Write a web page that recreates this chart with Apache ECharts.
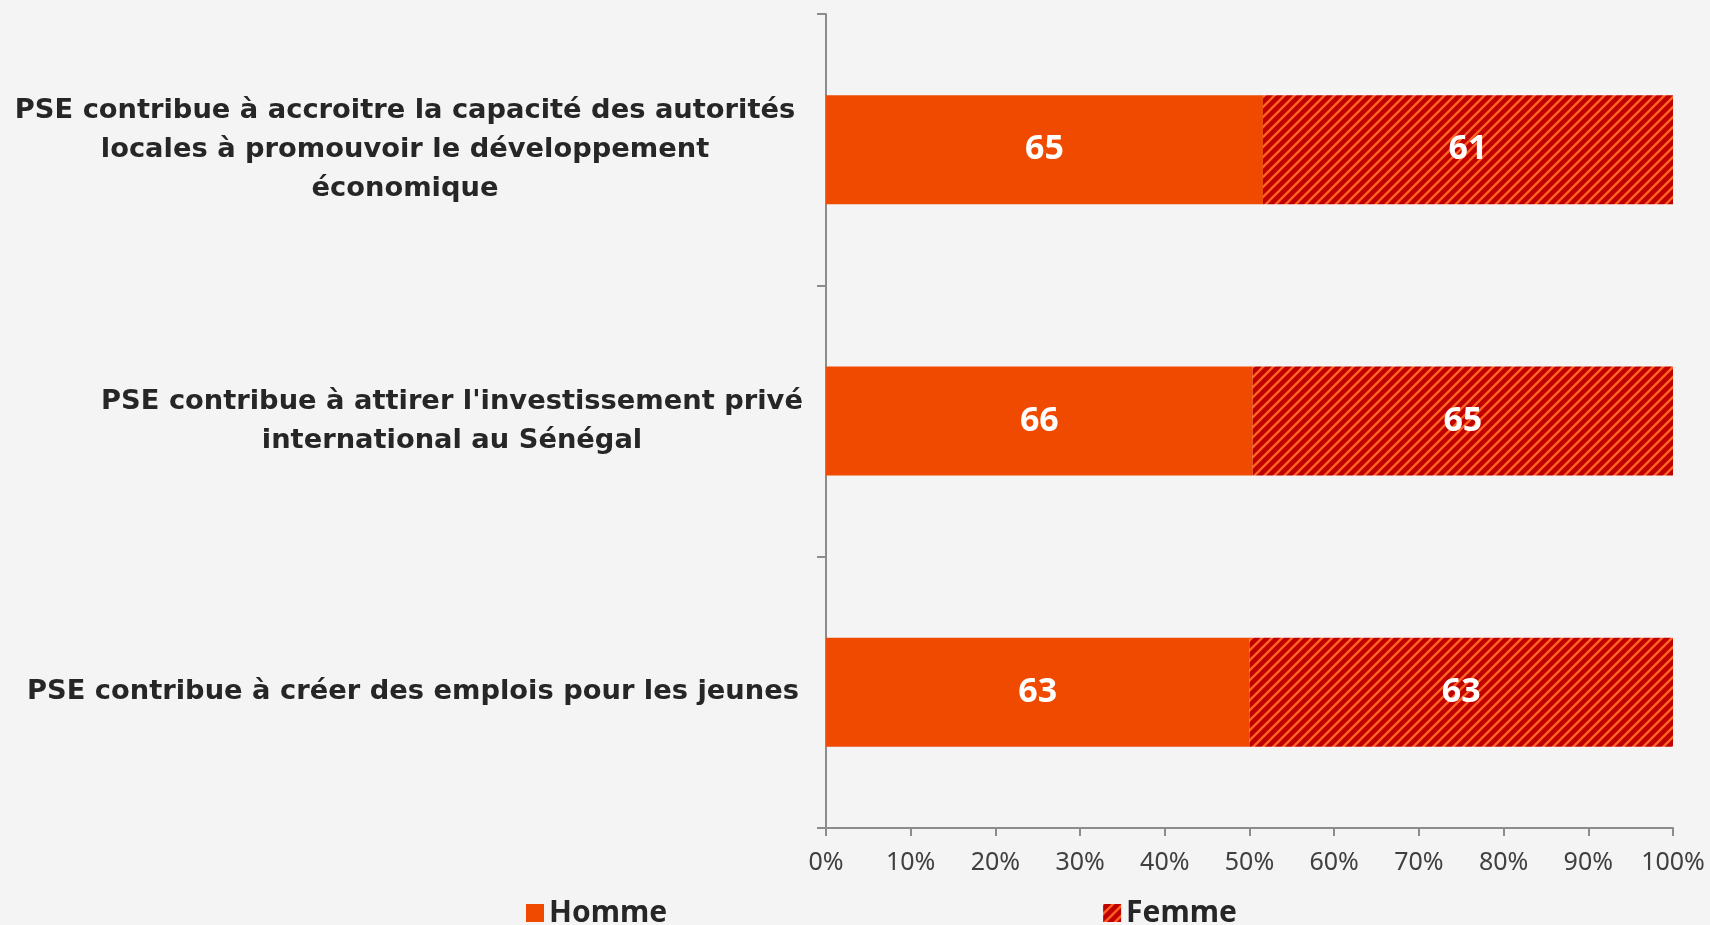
<!DOCTYPE html>
<html lang="fr">

<head>
  <meta charset="UTF-8" />
  <title>PSE - Homme / Femme</title>
  <script src="https://cdn.jsdelivr.net/npm/echarts@6/dist/echarts.min.js"></script>
  <style>
    body {
      margin: 0;
      background-color: #f4f4f4;
    }

    #chart {
      width: 1710px;
      height: 925px;
    }
  </style>
</head>

<body>
  <div id="chart"></div>

  <script>
    const categories = [
      "PSE contribue à accroitre la capacité des autorités\nlocales à promouvoir le développement\néconomique",
      "PSE contribue à attirer l'investissement privé\ninternational au Sénégal",
      "PSE contribue à créer des emplois pour les jeunes"
    ];
    const homme = [65, 66, 63];
    const femme = [61, 65, 63];
    const xTicks = [0, 10, 20, 30, 40, 50, 60, 70, 80, 90, 100];

    // hatched fill for "Femme": lines x + y = 0, 10, 20 on a 10px tile
    function hatch() {
      const c = document.createElement('canvas');
      c.width = 10;
      c.height = 10;
      const ctx = c.getContext('2d');
      ctx.fillStyle = '#c00000';
      ctx.fillRect(0, 0, 10, 10);
      ctx.strokeStyle = '#ff6424';
      ctx.lineWidth = 2.3;
      ctx.beginPath(); ctx.moveTo(-1, 1); ctx.lineTo(1, -1); ctx.stroke();
      ctx.beginPath(); ctx.moveTo(0, 10); ctx.lineTo(10, 0); ctx.stroke();
      ctx.beginPath(); ctx.moveTo(9, 11); ctx.lineTo(11, 9); ctx.stroke();
      return c;
    }

    const total = homme.map((h, i) => h + femme[i]);
    const pct = arr => arr.map((v, i) => v / total[i] * 100);

    const font = "'Noto Sans', sans-serif";
    const catFont = "'DejaVu Sans', sans-serif";
    const catStyle = w => ({
      width: w, align: 'center', fontFamily: catFont, fontSize: 27.3,
      fontWeight: 'bold', lineHeight: 39, color: '#262626'
    });

    const chart = echarts.init(document.getElementById('chart'));

    const option = {
      backgroundColor: '#f4f4f4',
      animation: false,
      grid: { left: 826, right: 37, top: 14, bottom: 97, containLabel: false, outerBoundsMode: 'none' },
      legend: {
        left: 521,
        top: 893,
        itemGap: 436,
        itemWidth: 18,
        itemHeight: 18,
        icon: 'rect',
        textStyle: { fontFamily: font, fontSize: 30, fontWeight: 'bold', color: '#262626' },
        data: ['Homme', 'Femme']
      },
      xAxis: {
        type: 'value',
        min: 0,
        max: 100,
        interval: 10,
        axisLine: { show: true, lineStyle: { color: '#8c8c8c', width: 2 } },
        axisTick: { show: true, length: 8, lineStyle: { color: '#8c8c8c', width: 2 } },
        splitLine: { show: false },
        axisLabel: {
          margin: 22,
          fontFamily: font,
          fontSize: 25,
          color: '#404040',
          formatter: v => xTicks.includes(v) ? v + '%' : ''
        }
      },
      yAxis: {
        type: 'category',
        inverse: true,
        data: categories,
        axisLine: { show: true, lineStyle: { color: '#8c8c8c', width: 2 } },
        axisTick: { show: true, length: 9, lineStyle: { color: '#8c8c8c', width: 2 } },
        axisLabel: {
          margin: 30,
          formatter: (v, i) => v.split('\n').map(l => '{c' + i + '|' + l + '}').join('\n'),
          rich: { c0: catStyle(782), c1: catStyle(688), c2: catStyle(766) }
        }
      },
      series: [
        {
          name: 'Homme',
          type: 'bar',
          stack: 'total',
          barWidth: 109,
          itemStyle: { color: '#ef4a00' },
          label: {
            show: true,
            position: 'inside',
            fontFamily: font,
            fontSize: 34,
            fontWeight: 'bold',
            color: '#ffffff',
            formatter: p => homme[p.dataIndex]
          },
          data: pct(homme)
        },
        {
          name: 'Femme',
          type: 'bar',
          stack: 'total',
          barWidth: 109,
          itemStyle: { color: { image: hatch(), repeat: 'repeat' } },
          label: {
            show: true,
            position: 'inside',
            fontFamily: font,
            fontSize: 34,
            fontWeight: 'bold',
            color: '#ffffff',
            formatter: p => femme[p.dataIndex]
          },
          data: pct(femme)
        }
      ]
    };

    chart.setOption(option);
  </script>
</body>

</html>
